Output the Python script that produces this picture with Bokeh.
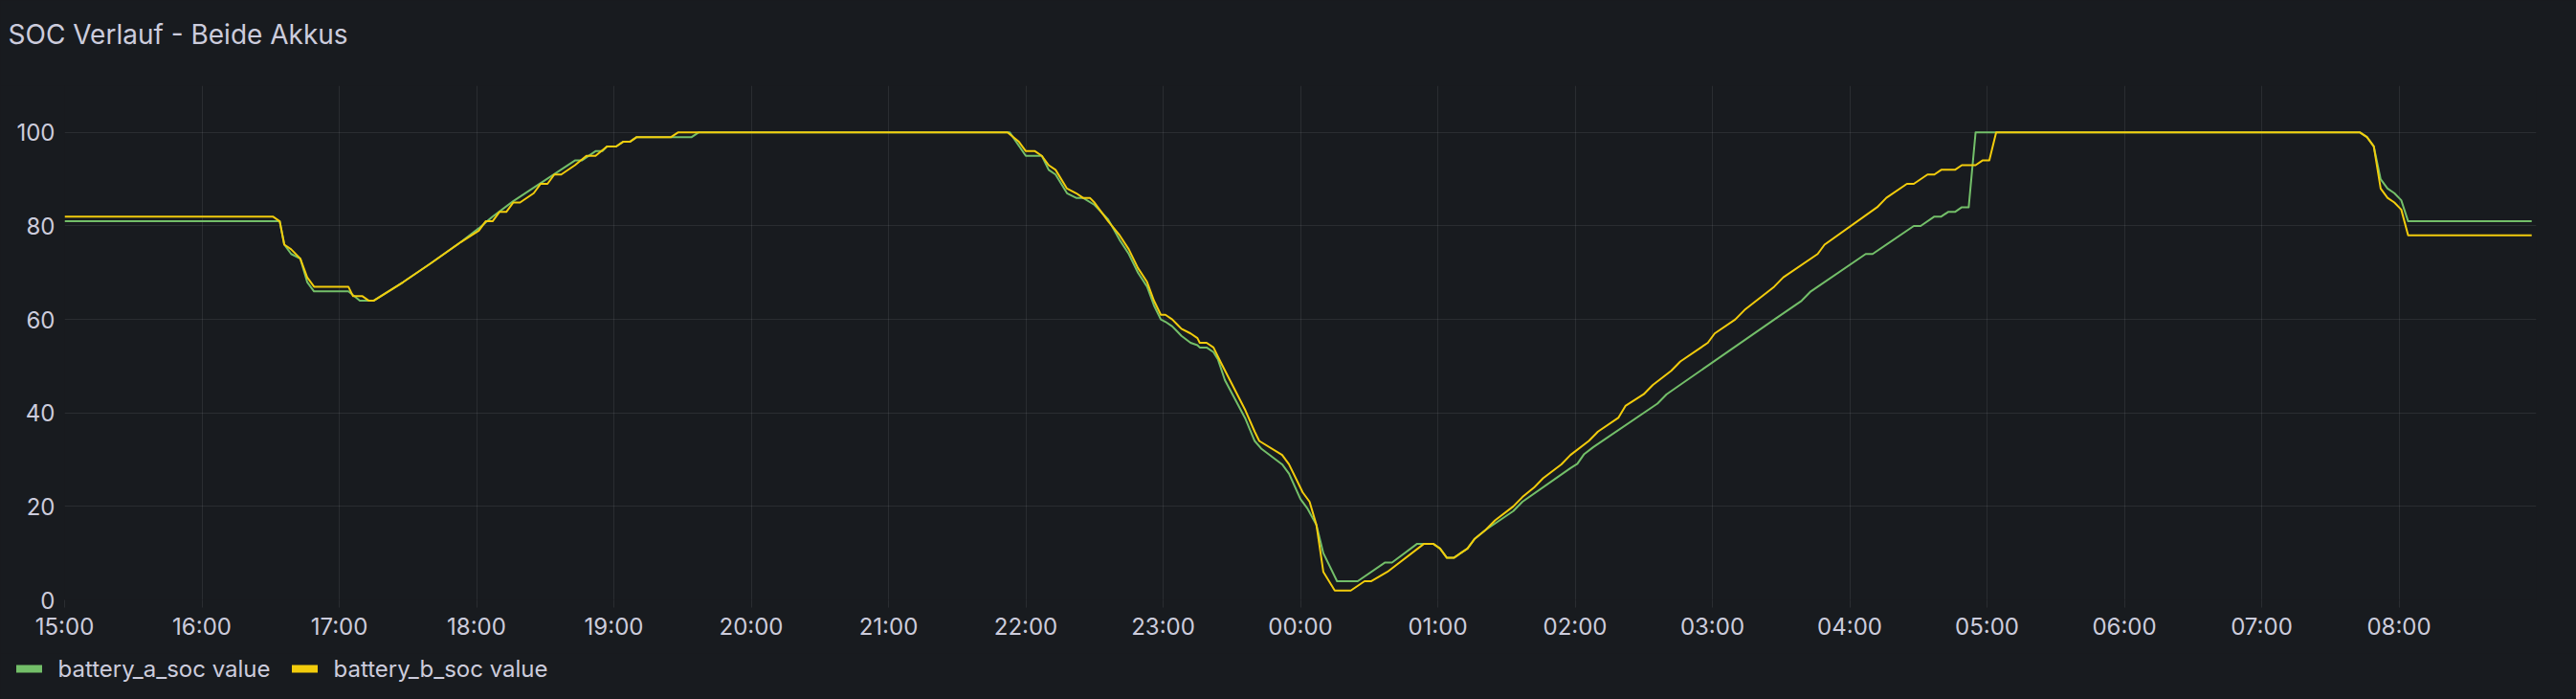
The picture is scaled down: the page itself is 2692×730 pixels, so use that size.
import pandas as pd
from bokeh.plotting import figure
from bokeh.layouts import column
from bokeh.models import (Range1d, FixedTicker, DatetimeTickFormatter, Legend,
                          LegendItem, Label)
from bokeh.embed import file_html
from bokeh.resources import INLINE

# ---------------- data ----------------
DAY = "2025-01-14"
TITLE = "SOC Verlauf - Beide Akkus"
LABEL_A = "battery_a_soc value"
LABEL_B = "battery_b_soc value"
Y_TICKS = [0, 20, 40, 60, 80, 100]

A_TIMES = ["15:00", "16:34", "16:36", "16:39", "16:43", "16:46", "16:49", "17:04", "17:09", "17:15",
           "17:28", "17:40", "17:53", "18:01", "18:07", "18:16", "18:43", "18:46", "18:52", "18:55",
           "18:57", "19:01", "19:04", "19:07", "19:10", "19:34", "19:37", "21:53", "22:00", "22:07",
           "22:10", "22:13", "22:18", "22:22", "22:25", "22:30", "22:36", "22:41", "22:45", "22:49",
           "22:53", "22:56", "22:59", "23:01", "23:04", "23:06", "23:08", "23:12", "23:15", "23:16",
           "23:19", "23:22", "23:24", "23:27", "23:36", "23:40", "23:43", "23:52", "23:55", "00:00",
           "00:03", "00:07", "00:10", "00:16", "00:25", "00:37", "00:40", "00:51", "00:58", "01:01",
           "01:04", "01:07", "01:13", "01:16", "01:21", "01:33", "01:37", "01:58", "02:01", "02:04",
           "02:08", "02:36", "02:40", "03:28", "03:39", "03:43", "04:07", "04:10", "04:28", "04:31",
           "04:37", "04:40", "04:43", "04:46", "04:49", "04:52", "04:55", "07:43", "07:46", "07:49",
           "07:52", "07:55", "07:58", "08:01", "08:04", "08:58"]
A_VALS = [81, 81, 76, 74, 73, 68, 66, 66, 64, 64,
          68, 72, 76.5, 79.5, 82, 85.3, 94, 94, 96, 96,
          97, 97, 98, 98, 99, 99, 100, 100, 95, 95,
          92, 91, 87, 86, 86, 84.5, 81.4, 77, 74, 70,
          67, 63, 60, 59.5, 58.5, 57.5, 56.5, 55, 54.5, 54,
          54, 53, 51.4, 47, 38.7, 34, 32.3, 29, 27, 21.6,
          19.6, 16, 10, 4, 4, 8, 8, 12, 12, 11,
          9, 9, 11, 13, 15, 19, 21, 28.2, 29.1, 31.2,
          32.7, 42, 44, 60.3, 64, 66, 74, 74, 80, 80,
          82, 82, 83, 83, 84, 84, 100, 100, 99, 97,
          90, 88, 87, 85.5, 81, 81]

B_TIMES = ["15:00", "16:31", "16:34", "16:36", "16:39", "16:43", "16:46", "16:49", "17:04", "17:06",
           "17:10", "17:13", "17:15", "17:28", "17:40", "17:53", "18:01", "18:04", "18:07", "18:10",
           "18:13", "18:16", "18:19", "18:25", "18:28", "18:31", "18:34", "18:37", "18:43", "18:48",
           "18:52", "18:57", "19:01", "19:04", "19:07", "19:10", "19:25", "19:28", "21:52", "21:57",
           "22:00", "22:04", "22:07", "22:10", "22:13", "22:18", "22:22", "22:25", "22:28", "22:30",
           "22:36", "22:41", "22:45", "22:49", "22:53", "22:56", "22:59", "23:01", "23:04", "23:06",
           "23:08", "23:12", "23:15", "23:16", "23:19", "23:22", "23:25", "23:36", "23:40", "23:42",
           "23:52", "23:55", "00:01", "00:04", "00:07", "00:10", "00:15", "00:22", "00:28", "00:31",
           "00:38", "00:54", "00:58", "01:01", "01:04", "01:07", "01:13", "01:16", "01:21", "01:25",
           "01:33", "01:37", "01:42", "01:46", "01:54", "01:58", "02:06", "02:10", "02:19", "02:22",
           "02:30", "02:34", "02:42", "02:46", "02:58", "03:01", "03:10", "03:14", "03:27", "03:31",
           "03:46", "03:49", "04:12", "04:16", "04:25", "04:28", "04:34", "04:37", "04:40", "04:46",
           "04:49", "04:55", "04:58", "05:01", "05:04", "07:43", "07:46", "07:49", "07:52", "07:55",
           "07:58", "08:01", "08:04", "08:58"]
B_VALS = [82, 82, 81, 76, 75, 73, 69, 67, 67, 65,
          65, 64, 64, 68, 72, 76.5, 79, 81, 81, 83,
          83, 85, 85, 87, 89, 89, 91, 91, 93, 95,
          95, 97, 97, 98, 98, 99, 99, 100, 100, 98,
          96, 96, 95, 93, 92, 88, 87, 86, 86, 85,
          81, 78, 75, 71, 68, 64, 61, 61, 60, 59,
          58, 57, 56, 55, 55, 54, 51, 40.5, 36, 34,
          31, 29, 23, 21, 16, 6, 2, 2, 4, 4,
          6, 12, 12, 11, 9, 9, 11, 13, 15, 17,
          20, 22, 24, 26, 29, 31, 34, 36, 39, 41.5,
          44, 46, 49, 51, 55, 57, 60, 62, 67, 69,
          74, 76, 84, 86, 89, 89, 91, 91, 92, 92,
          93, 93, 94, 94, 100, 100, 99, 97, 88, 86,
          85, 83.5, 78, 78]

# ---------------- style ----------------
BG = "#181b1f"
TEXT = "#ccccdc"
GRID = "#ccccdc"
GREEN = "#73BF69"
YELLOW = "#F2CC0C"
FONT = "Inter"
W = 2692


def to_dt(times):
    base = pd.Timestamp(DAY)
    out = []
    for t in times:
        h, m = map(int, t.split(":"))
        d = base + pd.Timedelta(hours=h, minutes=m)
        if h < 15:
            d += pd.Timedelta(days=1)
        out.append(d)
    return out


def blank(height):
    f = figure(width=W, height=height, x_range=Range1d(0, 1), y_range=Range1d(0, 1),
               output_backend="svg", toolbar_location=None,
               x_axis_location=None, y_axis_location=None,
               min_border=0, background_fill_color=BG, border_fill_color=BG,
               outline_line_color=None)
    f.frame_align = False
    f.xgrid.visible = False
    f.ygrid.visible = False
    return f


# ---------------- header (title) ----------------
HEADER_H = 89
header = blank(HEADER_H)
header.add_layout(Label(x=8, y=HEADER_H - 35, x_units="screen", y_units="screen", text=TITLE,
                        text_font=FONT, text_font_size="28px", text_color=TEXT,
                        text_align="left", text_baseline="alphabetic"))

# ---------------- main chart ----------------
x_start = pd.Timestamp(DAY + " 15:00")
x_end = x_start + pd.Timedelta(hours=18)

MAIN_H = 593
p = figure(width=W, height=MAIN_H, x_axis_type="datetime",
           x_range=Range1d(x_start, x_end), y_range=Range1d(0, 110),
           output_backend="svg", toolbar_location=None,
           min_border_left=67, min_border_right=42, min_border_top=0, min_border_bottom=56,
           background_fill_color=BG, border_fill_color=BG, outline_line_color=None)
p.frame_align = False

p.line(to_dt(A_TIMES), A_VALS, line_color=GREEN, line_width=2, line_join="round")
p.line(to_dt(B_TIMES), B_VALS, line_color=YELLOW, line_width=2, line_join="round")

hour_ticks = [(x_start + pd.Timedelta(hours=i)).timestamp() * 1000 for i in range(18)]
p.xaxis.ticker = FixedTicker(ticks=hour_ticks)
p.xaxis.formatter = DatetimeTickFormatter(hours="%H:%M", hourmin="%H:%M", minutes="%H:%M",
                                          days="%H:%M", minsec="%H:%M")
p.yaxis.ticker = FixedTicker(ticks=Y_TICKS)

for ax in (p.xaxis[0], p.yaxis[0]):
    ax.axis_line_color = None
    ax.minor_tick_line_color = None
    ax.minor_tick_out = 0
    ax.minor_tick_in = 0
    ax.major_label_text_font = FONT
    ax.major_label_text_font_size = "24px"
    ax.major_label_text_color = TEXT

p.yaxis.major_tick_line_color = None
p.yaxis.major_tick_out = 0
p.yaxis.major_tick_in = 0
p.yaxis.major_label_standoff = 10
p.xaxis.major_tick_in = 0
p.xaxis.major_tick_out = 8
p.xaxis.major_tick_line_color = GRID
p.xaxis.major_tick_line_alpha = 0.1
p.xaxis.major_label_standoff = 5

p.xgrid.grid_line_color = GRID
p.xgrid.grid_line_alpha = 0.1
p.ygrid.grid_line_color = GRID
p.ygrid.grid_line_alpha = 0.1

# ---------------- footer (legend) ----------------
FOOTER_H = 730 - HEADER_H - MAIN_H
footer = blank(FOOTER_H)
# one-point lines: nothing visible in the footer, only used as legend swatches
sw_a = footer.line([0], [0], line_color=GREEN, line_width=8, line_cap="round")
sw_b = footer.line([0], [0], line_color=YELLOW, line_width=8, line_cap="round")
legend = Legend(items=[LegendItem(label=LABEL_A, renderers=[sw_a]),
                       LegendItem(label=LABEL_B, renderers=[sw_b])],
                orientation="horizontal", location=(16.5, FOOTER_H - 1 - 30),
                label_text_font=FONT, label_text_font_size="24px", label_text_color=TEXT,
                glyph_width=27, glyph_height=30, label_height=30, label_standoff=17,
                spacing=22, padding=0, margin=0, border_line_color=None,
                background_fill_alpha=0)
footer.add_layout(legend, "center")

layout = column(header, p, footer, spacing=0)

html = file_html(layout, INLINE, title=TITLE)
html = html.replace("<head>", "<head><style>body{background:%s;}</style>" % BG, 1)
open("out.html", "w").write(html)
